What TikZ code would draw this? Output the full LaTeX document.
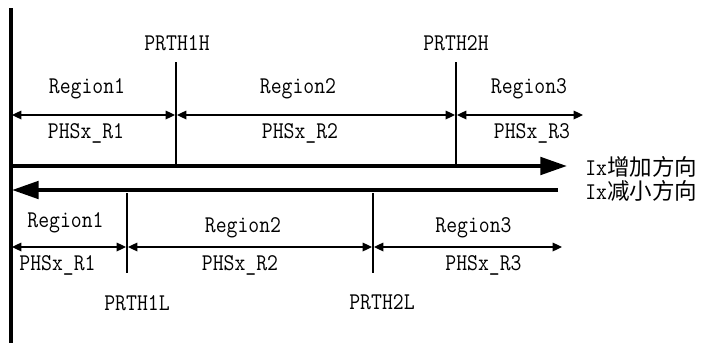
\documentclass[tikz,border=0pt]{standalone}
\usepackage{fontspec}
\setmonofont[FakeStretch=0.88]{Latin Modern Mono}
\newfontfamily\cjk{Noto Sans CJK SC}
\usetikzlibrary{arrows.meta}
\begin{document}
\begin{tikzpicture}[x=0.75pt,y=-0.75pt,
  lbl/.style={inner sep=0pt,font=\ttfamily\fontsize{18pt}{22pt}\selectfont},
  dim/.style={line width=0.9pt,{Triangle[length=7pt,width=6.5pt]}-{Triangle[length=7pt,width=6.5pt]}},
  thr/.style={line width=0.9pt},
  axis/.style={line width=3pt},
  bigtip/.style={-{Triangle[length=20pt,width=13pt]}}]
\useasboundingbox (0,0) rectangle (701,343);
% main vertical axis
\coordinate (vt) at (11,8);
\coordinate (vb) at (11,343);
\draw[axis] (vt) -- (vb);
% direction arrows
\coordinate (inc0) at (11,166);
\coordinate (inc1) at (567,166);
\coordinate (dec0) at (558,190);
\coordinate (dec1) at (12,190);
\draw[axis,bigtip] (inc0) -- (inc1);
\draw[axis,bigtip] (dec0) -- (dec1);
\node[lbl,anchor=west] (inclbl) at (585,167) {Ix{\cjk\fontsize{16.9pt}{20pt}\selectfont 增加方向}};
\node[lbl,anchor=west] (declbl) at (585,191) {Ix{\cjk\fontsize{16.9pt}{20pt}\selectfont 减小方向}};
% top thresholds
\coordinate (h1t) at (176,62); \coordinate (h1b) at (176,166);
\coordinate (h2t) at (456,62); \coordinate (h2b) at (456,166);
\draw[thr] (h1t) -- (h1b);
\draw[thr] (h2t) -- (h2b);
\node[lbl] (prth1h) at (177,43) {PRTH1H};
\node[lbl] (prth2h) at (456,43) {PRTH2H};
% top dimension arrows
\coordinate (ta0) at (12,115); \coordinate (ta1) at (175,115);
\coordinate (ta2) at (177,115); \coordinate (ta3) at (455,115);
\coordinate (ta4) at (457,115); \coordinate (ta5) at (583,115);
\draw[dim] (ta0) -- (ta1);
\draw[dim] (ta2) -- (ta3);
\draw[dim] (ta4) -- (ta5);
\node[lbl] (tr1) at (87,89) {Region1};
\node[lbl] (tp1) at (86,133) {PHSx\_R1};
\node[lbl] (tr2) at (298,89) {Region2};
\node[lbl] (tp2) at (300,133) {PHSx\_R2};
\node[lbl] (tr3) at (529,89) {Region3};
\node[lbl] (tp3) at (532,133) {PHSx\_R3};
% bottom thresholds
\coordinate (l1t) at (127,193); \coordinate (l1b) at (127,273);
\coordinate (l2t) at (373,193); \coordinate (l2b) at (373,273);
\draw[thr] (l1t) -- (l1b);
\draw[thr] (l2t) -- (l2b);
\node[lbl] (prth1l) at (137,303) {PRTH1L};
\node[lbl] (prth2l) at (382,302) {PRTH2L};
% bottom dimension arrows
\coordinate (ba0) at (12,247); \coordinate (ba1) at (126,247);
\coordinate (ba2) at (128,247); \coordinate (ba3) at (372,247);
\coordinate (ba4) at (374,247); \coordinate (ba5) at (562,247);
\draw[dim] (ba0) -- (ba1);
\draw[dim] (ba2) -- (ba3);
\draw[dim] (ba4) -- (ba5);
\node[lbl] (br1) at (65.5,223) {Region1};
\node[lbl] (bp1) at (57.5,265) {PHSx\_R1};
\node[lbl] (br2) at (243,228) {Region2};
\node[lbl] (bp2) at (240,265) {PHSx\_R2};
\node[lbl] (br3) at (473.5,228) {Region3};
\node[lbl] (bp3) at (483.5,265) {PHSx\_R3};
\end{tikzpicture}
\end{document}
